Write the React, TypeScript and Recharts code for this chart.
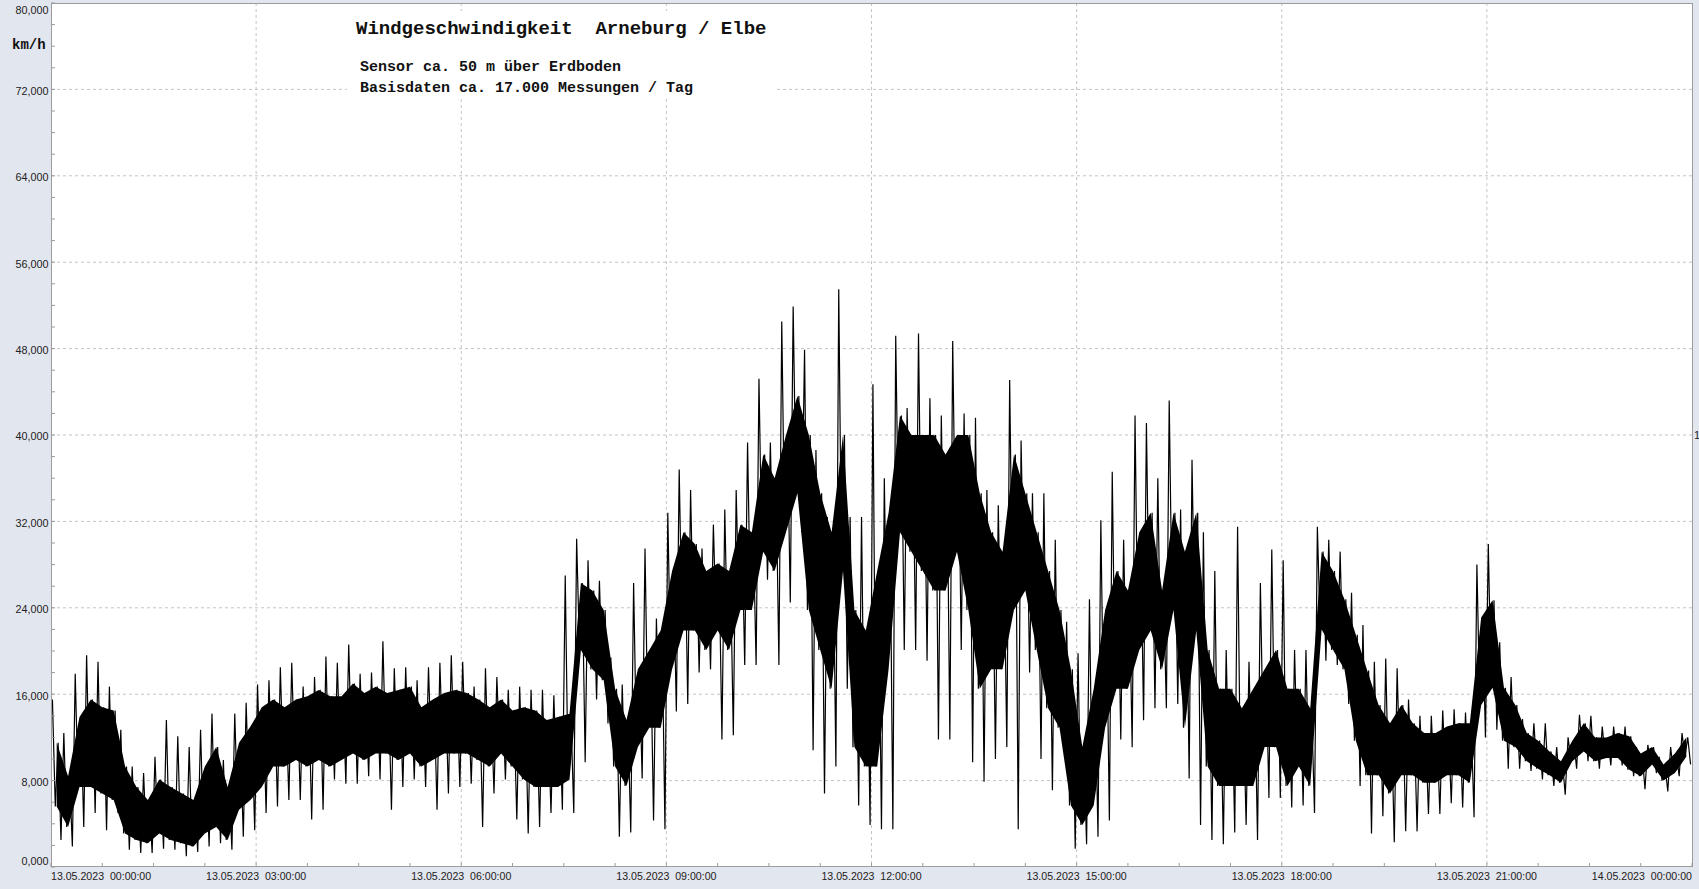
import { ComposedChart, Area, Line, XAxis, YAxis, CartesianGrid } from 'recharts'

// wind speed km/h, read per 10-minute slot from 00:00 to 24:00
// dense core of the trace (low / high) and the extreme spikes (high / low)
const coreLo = [
  5.6, 3.7, 7.4, 7.4, 6.8, 6.2, 3.1, 2.5, 2.2, 3.1, 2.5, 2.2,
  1.9, 3.1, 3.7, 2.5, 5.3, 6.2, 7.4, 9.3, 9.3, 9.9, 9.3, 9.9,
  9.3, 9.9, 10.5, 9.9, 10.5, 10.5, 9.9, 10.5, 9.3, 9.9, 10.5, 10.5,
  10.5, 9.9, 9.3, 10.5, 9.3, 8.1, 7.4, 7.4, 7.4, 8.1, 20.1, 18.3,
  17.3, 9.3, 7.5, 11.1, 12.9, 12.9, 18.3, 21.9, 21.9, 20.1, 21.9, 20.1,
  23.8, 23.8, 29.2, 27.4, 31.0, 34.6, 23.8, 20.1, 16.5, 27.4, 11.1, 9.3,
  9.3, 18.3, 31.0, 29.2, 27.4, 25.6, 25.6, 29.2, 23.8, 16.5, 18.3, 18.3,
  23.8, 25.6, 20.1, 14.7, 12.9, 5.7, 3.9, 5.7, 12.9, 16.5, 16.5, 20.1,
  21.9, 18.3, 23.8, 12.9, 21.9, 9.3, 7.5, 7.5, 7.5, 7.5, 11.1, 11.1,
  7.5, 9.3, 7.5, 22.0, 20.1, 18.3, 11.7, 8.5, 8.5, 6.8, 8.5, 8.5,
  7.8, 7.8, 8.5, 8.5, 7.8, 15.0, 16.6, 11.7, 11.1, 9.8, 9.1, 8.5,
  7.8, 9.8, 10.7, 9.8, 10.1, 10.1, 9.0, 8.4, 9.5, 8.0, 8.7, 10.2,
]
const coreHi = [
  11.5, 8.4, 13.9, 15.5, 14.8, 14.5, 9.3, 7.4, 6.2, 8.1, 7.4, 6.8,
  6.2, 9.3, 11.1, 7.4, 11.5, 13.0, 14.8, 15.5, 14.8, 15.5, 15.8, 16.4,
  15.8, 15.8, 17.0, 16.1, 16.7, 16.1, 16.4, 16.7, 14.8, 15.5, 16.1, 16.4,
  16.1, 15.5, 14.8, 15.5, 14.5, 14.8, 14.5, 13.6, 13.9, 14.2, 26.3, 25.6,
  23.8, 16.5, 13.6, 18.3, 20.1, 21.9, 27.4, 31.0, 29.9, 27.4, 28.1, 27.4,
  31.7, 31.0, 38.2, 36.0, 40.0, 43.6, 40.0, 34.6, 31.0, 40.0, 23.8, 21.9,
  27.4, 32.8, 41.8, 40.0, 40.0, 40.0, 38.2, 40.0, 40.0, 34.6, 31.0, 29.2,
  38.2, 34.6, 31.0, 27.4, 23.8, 18.3, 11.1, 16.5, 23.8, 27.4, 25.6, 31.0,
  32.8, 25.6, 32.8, 29.2, 32.8, 20.1, 16.5, 16.5, 14.7, 16.5, 18.3, 20.1,
  16.5, 16.5, 14.7, 29.2, 27.4, 24.8, 21.5, 18.2, 15.0, 13.3, 15.0, 13.3,
  12.4, 12.4, 13.0, 13.3, 13.3, 23.1, 24.7, 16.6, 15.0, 12.4, 11.7, 10.7,
  9.8, 11.7, 13.3, 12.0, 12.0, 12.4, 12.1, 10.5, 11.1, 9.5, 10.5, 12.0,
]
const peakHi = [
  15.5, 12.4, 17.9, 19.6, 19.0, 16.7, 12.7, 9.3, 8.7, 10.2, 13.6, 12.1,
  11.1, 12.7, 14.2, 9.9, 14.2, 15.2, 16.9, 17.3, 18.5, 18.9, 16.7, 17.6,
  19.5, 18.9, 20.6, 17.9, 18.0, 20.9, 18.4, 18.5, 17.3, 18.5, 18.9, 19.6,
  19.0, 16.7, 18.4, 17.6, 16.4, 16.7, 16.4, 16.4, 15.9, 27.0, 30.4, 28.4,
  26.5, 19.4, 16.9, 26.3, 29.5, 23.0, 32.8, 36.8, 34.9, 29.5, 31.7, 33.1,
  34.9, 39.3, 45.2, 39.3, 50.5, 51.9, 47.9, 38.6, 32.4, 53.5, 32.4, 32.4,
  44.7, 36.0, 49.2, 42.5, 49.4, 43.4, 41.8, 48.7, 42.0, 41.6, 34.9, 33.5,
  45.1, 39.5, 34.6, 34.6, 30.3, 22.7, 19.8, 24.8, 32.1, 36.6, 30.3, 41.8,
  41.1, 36.0, 43.2, 33.1, 37.7, 31.0, 27.4, 20.1, 31.5, 19.0, 26.3, 29.4,
  28.4, 20.1, 20.1, 31.5, 30.3, 29.2, 25.4, 22.4, 19.0, 19.3, 18.4, 15.5,
  14.0, 14.0, 14.5, 14.6, 14.3, 28.0, 29.9, 20.8, 17.6, 13.7, 13.3, 13.3,
  11.1, 12.0, 14.1, 14.0, 13.0, 13.0, 13.0, 11.1, 11.3, 10.2, 11.1, 12.4,
]
const peakLo = [
  2.5, 1.9, 3.7, 5.0, 3.4, 5.0, 1.6, 1.3, 1.3, 1.7, 1.6, 1.0,
  1.4, 1.9, 2.2, 1.6, 2.8, 3.4, 5.0, 5.6, 6.2, 6.2, 4.4, 5.3,
  8.1, 7.7, 7.7, 8.4, 8.1, 5.3, 7.4, 8.1, 7.4, 5.3, 6.8, 7.4,
  7.7, 3.7, 6.8, 8.1, 4.4, 3.1, 3.7, 5.0, 5.3, 5.0, 9.7, 15.5,
  13.3, 2.8, 3.2, 8.2, 4.3, 3.5, 14.4, 15.1, 18.0, 18.3, 11.8, 12.2,
  18.7, 18.7, 26.6, 18.7, 24.5, 31.0, 10.8, 6.8, 9.3, 16.5, 5.7, 3.9,
  3.5, 3.5, 20.1, 20.1, 19.1, 11.8, 11.8, 20.1, 9.7, 7.9, 10.0, 11.1,
  3.5, 18.0, 10.0, 7.1, 11.1, 1.7, 2.1, 2.8, 4.3, 11.8, 11.1, 13.6,
  14.7, 14.7, 15.1, 8.2, 3.9, 2.5, 2.1, 3.2, 3.9, 2.5, 6.4, 6.4,
  5.5, 5.7, 5.0, 19.1, 18.7, 15.1, 7.5, 3.1, 4.7, 2.3, 3.3, 3.3,
  4.9, 4.9, 5.9, 5.5, 4.6, 12.0, 12.7, 9.1, 9.1, 8.9, 8.1, 7.5,
  6.7, 9.1, 9.8, 9.1, 9.4, 9.4, 8.4, 7.2, 8.7, 7.0, 8.4, 9.5,
]

const slotMinutes = 10
const majorX = [0, 180, 360, 540, 720, 900, 1080, 1260, 1440]
const xLabels = [
  '13.05.2023  00:00:00', '13.05.2023  03:00:00', '13.05.2023  06:00:00',
  '13.05.2023  09:00:00', '13.05.2023  12:00:00', '13.05.2023  15:00:00',
  '13.05.2023  18:00:00', '13.05.2023  21:00:00', '14.05.2023  00:00:00',
]
const minorX = Array.from({ length: 33 }, (_, i) => i * 45)
const minorY = Array.from({ length: 41 }, (_, i) => i * 2)
const gridX = [180, 360, 540, 720, 900, 1080, 1260]
const gridY = [8, 16, 24, 32, 40, 48, 56, 64, 72]

// solid core band per slot
const bandData = coreLo.map((lo, i) => ({ t: i * slotMinutes + 5, band: [lo, coreHi[i]] }))
// trace inside each slot: spike up, core low, core high, spike down
const traceData = peakHi.flatMap((hi, i) => {
  const t0 = i * slotMinutes
  return [
    { t: t0 + 1.25, v: hi },
    { t: t0 + 3.75, v: coreLo[i] },
    { t: t0 + 6.25, v: coreHi[i] },
    { t: t0 + 8.75, v: peakLo[i] },
  ]
})

const fmt = (v: number) => v.toFixed(3).replace('.', ',')

function XTick(props: any) {
  const { x, y, payload } = props
  const i = majorX.indexOf(payload.value)
  const anchor = i === 0 ? 'start' : i === majorX.length - 1 ? 'end' : 'middle'
  return (
    <g>
      <line x1={x} y1={y} x2={x} y2={y - 4} stroke="#9a9a9a" />
      {i >= 0 && (
        <text x={x} y={y + 13} textAnchor={anchor} fontSize={10.6} fill="#222" xmlSpace="preserve"
          fontFamily="'Liberation Sans', Arial, sans-serif" style={{ whiteSpace: 'pre' }}>
          {xLabels[i]}
        </text>
      )}
    </g>
  )
}

function YTick(props: any) {
  const { x, y, payload } = props
  const v = payload.value
  const isMajor = v % 8 === 0
  const dy = v === 80 ? 11 : v === 0 ? -2 : 5.4
  return (
    <g>
      <line x1={x} y1={y} x2={x + 4} y2={y} stroke="#9a9a9a" />
      {isMajor && (
        <text x={x - 2.5} y={y + dy} textAnchor="end" fontSize={10.8} fill="#222"
          fontFamily="'Liberation Sans', Arial, sans-serif">
          {fmt(v)}
        </text>
      )}
    </g>
  )
}

export default function App() {
  const mono = "'Liberation Mono', 'Courier New', monospace"
  return (
    <div style={{ position: 'absolute', left: 0, top: 0, width: 1699, height: 889, background: '#e2e6ee' }}>
      <ComposedChart width={1699} height={889} margin={{ top: 3, right: 7, bottom: 0, left: 0 }}>
        <CartesianGrid fill="#fff" stroke="#c4c4c4" strokeDasharray="3 3"
          verticalValues={gridX} horizontalValues={gridY} />
        <XAxis type="number" dataKey="t" domain={[0, 1440]} ticks={minorX} interval={0}
          height={22} tickSize={0} tickMargin={0} axisLine={false} tick={XTick} />
        <YAxis type="number" domain={[0, 80]} ticks={minorY} interval={0}
          width={51} tickSize={0} tickMargin={0} axisLine={false} tick={YTick} />
        <Area data={bandData} dataKey="band" type="linear" stroke="none"
          fill="#000" fillOpacity={1} dot={false} activeDot={false} isAnimationActive={false} />
        <Line data={traceData} dataKey="v" type="linear" stroke="#000" strokeWidth={1.2}
          dot={false} activeDot={false} isAnimationActive={false} />
      </ComposedChart>
      <svg width={1699} height={889} style={{ position: 'absolute', left: 0, top: 0, pointerEvents: 'none' }}>
        <rect x={51.5} y={3.5} width={1641} height={863} fill="none" stroke="#9c9c9c" />
        <rect x={347} y={11} width={430} height={88} fill="#fff" />
        <text x={356} y={34} fontFamily={mono} fontWeight="bold" fontSize={19} fill="#111" style={{ whiteSpace: 'pre' }}>
          Windgeschwindigkeit  Arneburg / Elbe
        </text>
        <text x={360} y={71} fontFamily={mono} fontWeight="bold" fontSize={15} fill="#111">
          Sensor ca. 50 m über Erdboden
        </text>
        <text x={360} y={92} fontFamily={mono} fontWeight="bold" fontSize={15} fill="#111">
          Basisdaten ca. 17.000 Messungen / Tag
        </text>
        <text x={12} y={49} fontFamily={mono} fontWeight="bold" fontSize={14} fill="#111">
          km/h
        </text>
        <text x={1694} y={439} fontFamily="'Liberation Sans', Arial, sans-serif" fontSize={11} fill="#222">
          1
        </text>
      </svg>
    </div>
  )
}
